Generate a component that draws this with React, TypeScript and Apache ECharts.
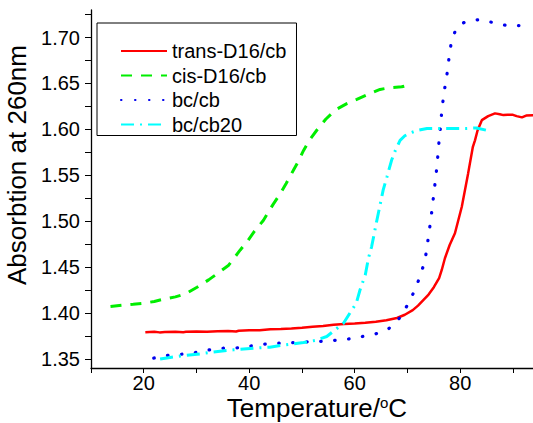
import React, { useEffect, useRef } from "react";
import * as echarts from "echarts";

const seriesNames = ["trans-D16/cb", "cis-D16/cb", "bc/cb", "bc/cb20"];

const transData: [number, number][] = [
  [20.3, 1.379], [22, 1.3795], [23, 1.3788], [24, 1.3792], [26, 1.3796], [27.5, 1.379], [28, 1.3794],
  [30, 1.3798], [32, 1.3795], [34, 1.380], [36, 1.3802], [37.5, 1.3797], [38, 1.3805], [40, 1.381],
  [42, 1.3812], [44, 1.3823], [46, 1.3825], [48, 1.383], [50, 1.3838], [52, 1.385], [54, 1.3858],
  [56, 1.387], [58, 1.388], [60, 1.3885], [62, 1.3892], [64, 1.3905], [66, 1.392], [68, 1.3945],
  [69.5, 1.398], [71, 1.403], [72, 1.408], [73, 1.414], [74, 1.42], [75, 1.428], [76, 1.438],
  [76.5, 1.4468], [77.1, 1.4596], [78, 1.474], [79, 1.4868], [80.3, 1.5157], [81.5, 1.552],
  [82.4, 1.581], [82.8, 1.588], [83.3, 1.599], [84.1, 1.61], [85.3, 1.6144], [86.6, 1.6174],
  [87.5, 1.6165], [88.2, 1.6155], [89, 1.616], [90, 1.6158], [90.7, 1.6144], [91.7, 1.613],
  [92.5, 1.615], [93.9, 1.6155],
];

const cisData: [number, number][] = [
  [13.7, 1.407], [16, 1.4085], [18, 1.4095], [20, 1.4106], [22, 1.4125], [23.8, 1.415], [26, 1.4175],
  [27.9, 1.4207], [30.1, 1.428], [32.3, 1.436], [34, 1.443], [36.1, 1.452], [38.3, 1.4686],
  [39.6, 1.4777], [41, 1.489], [42.7, 1.501], [44.5, 1.518], [45.9, 1.53], [47, 1.541],
  [48.4, 1.5557], [49.3, 1.565], [50.3, 1.577], [51.5, 1.589], [52.8, 1.599], [54.5, 1.611],
  [56.3, 1.621], [58.5, 1.628], [60.4, 1.6326], [62.5, 1.638], [64.8, 1.6435], [66.8, 1.6455],
  [68.9, 1.6463], [70, 1.6478],
];

const bcData: [number, number][] = [
  [21.9, 1.3508], [24.7, 1.354], [27.2, 1.355], [29.9, 1.357], [32.5, 1.3598], [35.1, 1.3616],
  [37.7, 1.362], [40.3, 1.364], [42.9, 1.366], [45.5, 1.367], [48, 1.3675], [50.8, 1.3685],
  [53.4, 1.369], [56, 1.37], [58.6, 1.3714], [61.2, 1.374], [63.9, 1.377], [66.4, 1.3826],
  [68.6, 1.395], [70.2, 1.4106], [71.4, 1.425], [72.4, 1.44], [73.2, 1.4548], [73.7, 1.47],
  [74.0, 1.485], [74.4, 1.5], [74.7, 1.515], [75.0, 1.53], [75.3, 1.5448], [75.6, 1.56],
  [75.8, 1.5745], [76.0, 1.588], [76.3, 1.605], [76.5, 1.62], [76.8, 1.634], [77.2, 1.65],
  [77.6, 1.664], [77.9, 1.679], [78.3, 1.6946], [79.2, 1.7095], [80.2, 1.715], [81.4, 1.718],
  [83.8, 1.7196], [85, 1.718], [86.4, 1.716], [88.9, 1.713], [91.5, 1.713],
];

const bc20Data: [number, number][] = [
  [23.1, 1.3497], [25, 1.3515], [26.9, 1.353], [30.7, 1.3554], [33.2, 1.3575], [37, 1.3598],
  [40.8, 1.3616], [43.9, 1.3627], [45.9, 1.3645], [50.3, 1.3677], [52.5, 1.37], [54.7, 1.3743],
  [56.3, 1.3816], [57.9, 1.389], [59.1, 1.4], [60.3, 1.4106], [61.0, 1.425], [62.0, 1.4414],
  [62.6, 1.4596], [63.2, 1.472], [64.2, 1.501], [65.4, 1.534], [66.1, 1.548], [67.0, 1.5665],
  [67.7, 1.577], [68.6, 1.588], [69.5, 1.593], [70.5, 1.596], [72, 1.599], [73.7, 1.601],
  [76.8, 1.601], [81.2, 1.601], [83.1, 1.6015], [85.0, 1.599],
];

const xTicks = [10, 20, 30, 40, 50, 60, 70, 80, 90];
const xLabels = [20, 40, 60, 80];
const yTicks = [1.35, 1.375, 1.4, 1.425, 1.45, 1.475, 1.5, 1.525, 1.55, 1.575, 1.6, 1.625, 1.65, 1.675, 1.7, 1.725];
const yLabels = [1.35, 1.4, 1.45, 1.5, 1.55, 1.6, 1.65, 1.7];
const xTitle = "Temperature/{sup|o}C";
const yTitle = "Absorbtion at 260nm";

const FONT = "'Liberation Sans', Arial, sans-serif";

export default function App() {
  const ref = useRef<HTMLDivElement>(null);
  useEffect(() => {
    if (!ref.current) return;
    const chart = echarts.init(ref.current, null, { renderer: "svg" });
    const axisCommon = {
      axisLine: { show: true, lineStyle: { color: "#000", width: 1.3 } },
      splitLine: { show: false },
    };
    chart.setOption({
      animation: false,
      backgroundColor: "#fff",
      textStyle: { fontFamily: FONT },
      grid: { left: 91, top: 10, right: 0, bottom: 55, containLabel: false, outerBoundsMode: "none" },
      legend: {
        orient: "vertical",
        left: 97,
        top: 23,
        itemWidth: 46,
        itemHeight: 14,
        itemGap: 4.5,
        padding: [18, 10, 1, 23],
        borderColor: "#000",
        borderWidth: 1,
        backgroundColor: "#fff",
        itemStyle: { opacity: 0 },
        textStyle: { fontSize: 20, color: "#000", fontFamily: FONT, width: 114, overflow: "none" },
        data: seriesNames,
      },
      graphic: [
        {
          type: "text",
          x: 317,
          y: 395,
          style: {
            text: xTitle,
            fontSize: 26,
            fontFamily: FONT,
            fill: "#000",
            align: "center",
            verticalAlign: "top",
            rich: { sup: { fontSize: 15, verticalAlign: "top", fill: "#000", fontFamily: FONT } },
          },
        },
      ],
      xAxis: {
        type: "value",
        min: 10,
        max: 93.8,
        ...axisCommon,
        axisTick: { show: true, inside: false, length: 5, customValues: xTicks, lineStyle: { color: "#000" } },
        axisLabel: {
          customValues: xLabels,
          margin: 8,
          lineHeight: 14,
          fontSize: 20,
          color: "#000",
          fontFamily: FONT,
        },
      },
      yAxis: {
        type: "value",
        min: 1.34,
        max: 1.73,
        ...axisCommon,
        axisTick: { show: true, inside: false, length: 6, customValues: yTicks, lineStyle: { color: "#000" } },
        axisLabel: {
          customValues: yLabels,
          margin: 11,
          fontSize: 20,
          color: "#000",
          fontFamily: FONT,
          formatter: (v: number) => v.toFixed(2),
        },
        name: yTitle,
        nameLocation: "middle",
        nameGap: 40,
        nameTextStyle: { fontSize: 26, color: "#000", fontFamily: FONT, padding: [0, 0, 0, 48] },
      },
      series: [
        {
          name: seriesNames[0],
          type: "line",
          data: transData,
          symbol: "none",
          itemStyle: { color: "#ff0000" },
          lineStyle: { color: "#ff0000", width: 2.5, type: "solid" },
        },
        {
          name: seriesNames[1],
          type: "line",
          data: cisData,
          symbol: "none",
          itemStyle: { color: "#00ee00" },
          lineStyle: { color: "#00ee00", width: 3, type: [11, 9] },
        },
        {
          name: seriesNames[2],
          type: "line",
          data: bcData,
          symbol: "none",
          itemStyle: { color: "#0000ee" },
          lineStyle: { color: "#0000ee", width: 3.2, type: [0.5, 13.5], cap: "round" },
        },
        {
          name: seriesNames[3],
          type: "line",
          data: bc20Data,
          symbol: "none",
          itemStyle: { color: "#00ffff" },
          lineStyle: { color: "#00ffff", width: 3, type: [13, 6, 2, 6] },
        },
      ],
    });
    return () => chart.dispose();
  }, []);
  return (
    <div
      ref={ref}
      style={{ position: "fixed", left: 0, top: 0, width: 533, height: 423, background: "#fff" }}
    />
  );
}
